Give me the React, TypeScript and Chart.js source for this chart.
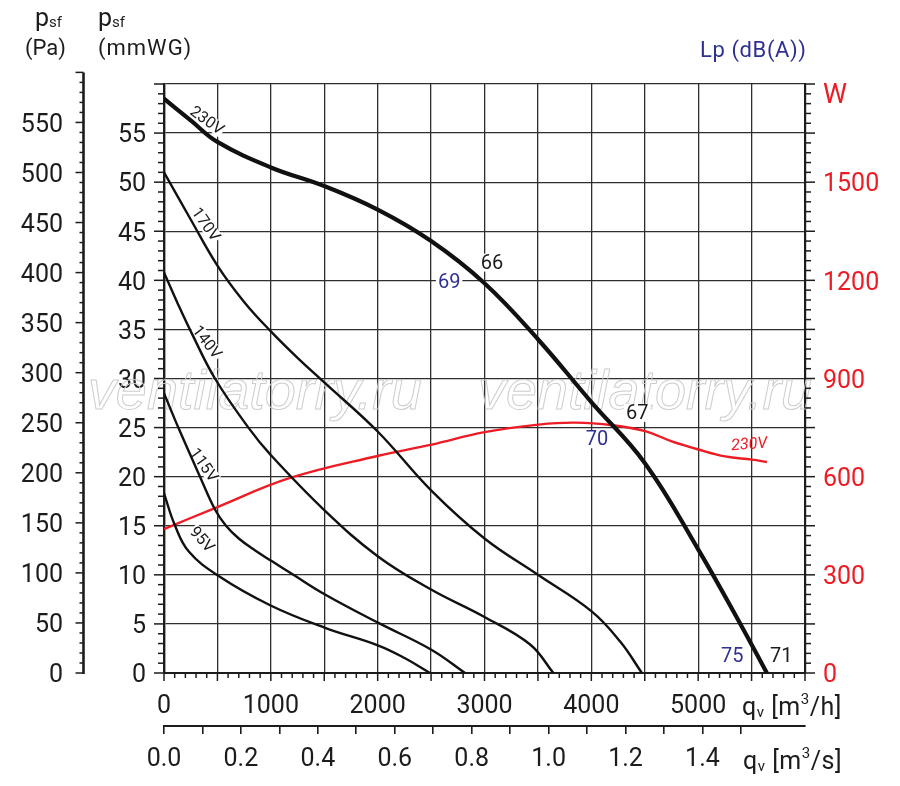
import React, { useEffect, useRef } from 'react';
import { Chart, registerables } from 'chart.js';

Chart.register(...registerables);

const FONT = 'Roboto, "Noto Sans", "DejaVu Sans", sans-serif';
const INK = '#1c1c1c';
const GRID = '#2e2e2e';
const RED = '#ed1c24';
const BLUE = '#2e3192';

// Pressure curves: q in m3/h, p in mmWG
const q230 = [0, 250, 500, 1000, 1500, 2000, 2500, 3000, 3500, 4000, 4500, 5000, 5400, 5643];
const p230 = [58.5, 56.3, 54.1, 51.5, 49.6, 47.2, 44.0, 39.7, 34.0, 27.6, 21.4, 12.6, 4.9, 0];
const q170 = [0, 250, 500, 750, 1000, 1250, 1500, 2000, 2500, 3000, 3500, 4000, 4270, 4473];
const p170 = [51.0, 46.2, 41.5, 37.8, 34.8, 32.1, 29.6, 24.6, 18.6, 13.7, 10.0, 6.3, 3.2, 0];
const q140 = [0, 130, 260, 477, 790, 1000, 1500, 2000, 2500, 3000, 3427, 3645];
const p140 = [40.8, 37.6, 34.6, 30.0, 25.0, 22.2, 16.6, 11.9, 8.5, 5.7, 2.9, 0];
const q115 = [0, 134, 337, 480, 580, 700, 850, 1008, 1211, 1507, 2007, 2506, 2818];
const p115 = [28.5, 25.0, 20.0, 16.6, 15.0, 13.7, 12.5, 11.4, 10.0, 8.0, 5.1, 2.35, 0];
const q95 = [0, 100, 230, 508, 993, 1507, 2007, 2256, 2490];
const p95 = [18.3, 15.1, 12.4, 9.9, 6.9, 4.6, 2.8, 1.5, 0];
// Power input at 230V, W
const qW = [0, 477, 1180, 2007, 2506, 3000, 3505, 3850, 4200, 4504, 4753, 5003, 5253, 5503, 5643];
const pW = [440, 504, 596, 664, 698, 736, 759, 765, 757, 739, 708, 683, 662, 652, 645];

// Curve names
const curveNames = ['230V', '170V', '140V', '115V', '95V'];
const curveNameQ = [403, 393, 403, 375, 356];
const curveNameP = [56.3, 45.7, 33.7, 21.2, 13.6];
const curveNameAngle = [36, 55, 52, 55, 48];

// Sound level notes, dB(A)
const noteText = ['66', '69', '67', '70', '75', '71'];
const noteQ = [3071, 2669, 4429, 4054, 5318, 5777];
const noteP = [41.8, 39.8, 26.5, 23.8, 1.7, 1.7];
const noteBlue = [false, true, false, true, true, false];

// Power curve name
const powerName = '230V';
const powerNameQ = 5478;
const powerNameW = 697;

// Watermark
const watermark = 'ventilatorry.ru';
const watermarkQ = [-712, 2940];
const watermarkP = 26.9;

const pts = (q: number[], p: number[]) => q.map((x, i) => ({ x, y: p[i] }));

function rich(ctx: CanvasRenderingContext2D, parts: [string, number, number][], x: number, y: number) {
  let cx = x;
  for (const [t, size, dy] of parts) {
    ctx.font = `${size}px ${FONT}`;
    ctx.fillText(t, cx, y + dy);
    cx += ctx.measureText(t).width;
  }
}

const decor = {
  id: 'decor',
  beforeDatasetsDraw(chart: any) {
    const { ctx, scales } = chart;
    const x = scales.x, y = scales.y, yW = scales.yW;
    ctx.save();
    // watermark
    ctx.font = `italic 52px "Liberation Sans", Arial, sans-serif`;
    const w0 = ctx.measureText(watermark).width;
    const fs = (52 * 334) / w0;
    ctx.font = `italic ${fs}px "Liberation Sans", Arial, sans-serif`;
    ctx.strokeStyle = '#cdcdcd';
    ctx.lineWidth = 1;
    ctx.textAlign = 'left';
    ctx.textBaseline = 'alphabetic';
    for (const q of watermarkQ) {
      ctx.strokeText(watermark, x.getPixelForValue(q), y.getPixelForValue(watermarkP));
    }
    // curve names
    ctx.font = `16px ${FONT}`;
    ctx.textAlign = 'center';
    ctx.textBaseline = 'middle';
    curveNames.forEach((t, i) => {
      ctx.save();
      ctx.translate(x.getPixelForValue(curveNameQ[i]), y.getPixelForValue(curveNameP[i]));
      ctx.rotate((curveNameAngle[i] * Math.PI) / 180);
      const w = ctx.measureText(t).width;
      ctx.fillStyle = '#fff';
      ctx.fillRect(-w / 2 - 1, -7, w + 2, 14);
      ctx.fillStyle = INK;
      ctx.fillText(t, 0, 1);
      ctx.restore();
    });
    // notes
    ctx.font = `20px ${FONT}`;
    noteText.forEach((t, i) => {
      const px = x.getPixelForValue(noteQ[i]);
      const py = y.getPixelForValue(noteP[i]);
      const w = ctx.measureText(t).width;
      ctx.fillStyle = '#fff';
      ctx.fillRect(px - w / 2 - 2, py - 9, w + 4, 18);
      ctx.fillStyle = noteBlue[i] ? BLUE : INK;
      ctx.fillText(t, px, py + 1);
    });
    // power curve name
    ctx.save();
    ctx.translate(x.getPixelForValue(powerNameQ), yW.getPixelForValue(powerNameW));
    ctx.rotate((-4 * Math.PI) / 180);
    ctx.font = `italic 16px ${FONT}`;
    ctx.fillStyle = RED;
    ctx.fillText(powerName, 0, 0);
    ctx.restore();
    ctx.restore();
  },
  afterDraw(chart: any) {
    const { ctx, scales } = chart;
    const x = scales.x, y = scales.y, yPa = scales.yPa, yW = scales.yW;
    ctx.save();
    ctx.strokeStyle = INK;
    ctx.lineWidth = 1.5;
    ctx.lineCap = 'butt';
    const tick = (x1: number, y1: number, x2: number, y2: number) => {
      ctx.beginPath();
      ctx.moveTo(x1, y1);
      ctx.lineTo(x2, y2);
      ctx.stroke();
    };
    const bottom = y.getPixelForValue(0);
    for (let v = 0; v <= 6000; v += 100) {
      const px = x.getPixelForValue(v);
      tick(px, bottom, px, bottom + (v % 500 === 0 ? 8 : 5));
    }
    const left = y.right;
    for (let v = 0; v <= 60; v += 1) {
      const py = y.getPixelForValue(v);
      tick(left - (v % 5 === 0 ? 10 : 6), py, left, py);
    }
    const paX = yPa.right - 0.5;
    for (let v = 0; v <= 600; v += 10) {
      const py = yPa.getPixelForValue(v);
      tick(paX - (v % 50 === 0 ? 8 : 4), py, paX, py);
    }
    ctx.lineWidth = 2.6;
    tick(paX, yPa.getPixelForValue(600), paX, yPa.getPixelForValue(0) + 1);
    ctx.lineWidth = 1.5;
    const right = yW.left;
    for (let v = 0; v <= 1800; v += 30) {
      const py = yW.getPixelForValue(v);
      tick(right, py, right + (v % 150 === 0 ? 10 : 6), py);
    }
    // texts
    ctx.textAlign = 'left';
    ctx.textBaseline = 'alphabetic';
    ctx.fillStyle = INK;
    rich(ctx, [['p', 25, 0], ['sf', 15, 1]], 35, 26);
    rich(ctx, [['p', 25, 0], ['sf', 15, 1]], 98, 26);
    ctx.font = `22px ${FONT}`;
    ctx.fillText('(Pa)', 25, 55);
    (ctx as any).letterSpacing = '1px';
    ctx.fillText('(mmWG)', 98, 55);
    (ctx as any).letterSpacing = '0.6px';
    ctx.fillStyle = BLUE;
    ctx.fillText('Lp (dB(A))', 700, 57);
    (ctx as any).letterSpacing = '0px';
    ctx.fillStyle = RED;
    ctx.font = `27px ${FONT}`;
    ctx.fillText('W', yW.left + 18, 103);
    ctx.fillStyle = INK;
    (ctx as any).letterSpacing = '0.5px';
    rich(ctx, [['q', 25, 0], ['v', 15, 2], [' [m', 25, 0], ['3', 15, -11], ['/h]', 25, 0]], 742, 715);
    rich(ctx, [['q', 25, 0], ['v', 15, 2], [' [m', 25, 0], ['3', 15, -11], ['/s]', 25, 0]], 743, 769);
    (ctx as any).letterSpacing = '0px';
    ctx.restore();
  },
};

export default function App() {
  const ref = useRef<HTMLCanvasElement>(null);
  useEffect(() => {
    const canvas = ref.current;
    if (!canvas) return;
    const tickFont = { family: FONT, size: 25 };
    const chart = new Chart(canvas, {
      type: 'line',
      data: {
        datasets: [
          { data: pts(q230, p230), borderColor: '#111', borderWidth: 4.2, yAxisID: 'y', xAxisID: 'x' },
          { data: pts(q170, p170), borderColor: '#111', borderWidth: 2.4, yAxisID: 'y', xAxisID: 'x' },
          { data: pts(q140, p140), borderColor: '#111', borderWidth: 2.4, yAxisID: 'y', xAxisID: 'x' },
          { data: pts(q115, p115), borderColor: '#111', borderWidth: 2.4, yAxisID: 'y', xAxisID: 'x' },
          { data: pts(q95, p95), borderColor: '#111', borderWidth: 2.4, yAxisID: 'y', xAxisID: 'x' },
          { data: pts(qW, pW), borderColor: RED, borderWidth: 2.4, yAxisID: 'yW', xAxisID: 'x' },
        ] as any,
      },
      options: {
        responsive: false,
        animation: false,
        events: [],
        layout: { padding: { top: 84, left: 0, right: 0, bottom: 0 }, autoPadding: false } as any,
        plugins: { legend: { display: false }, tooltip: { enabled: false } },
        elements: { point: { radius: 0 }, line: { tension: 0.4, fill: false } },
        scales: {
          x: {
            type: 'linear', position: 'bottom', min: 0, max: 6000, weight: 0,
            afterFit: (s: any) => { s.height = 53; },
            ticks: {
              stepSize: 500, autoSkip: false, maxRotation: 0, padding: 19, color: INK, font: tickFont,
              callback: (v: any) => (v % 1000 === 0 && v < 6000 ? String(v) : ''),
            },
            grid: { color: GRID, lineWidth: 1.3, drawTicks: false },
            border: { display: true, color: INK, width: 2 },
          },
          x2: {
            type: 'linear', position: 'bottom', min: 0, max: 6000 / 3600, weight: 1,
            afterFit: (s: any) => { s.height = 60; },
            afterBuildTicks: (s: any) => { s.ticks = s.ticks.filter((t: any) => t.value <= 1.5 + 1e-6); },
            ticks: {
              stepSize: 0.1, autoSkip: false, maxRotation: 0, padding: 11, color: INK, font: tickFont,
              callback: (v: any) => (Math.round(v * 10) % 2 === 0 ? Number(v).toFixed(1) : ''),
            },
            grid: { display: true, drawOnChartArea: false, drawTicks: true, tickLength: 8, color: INK, lineWidth: 1.6 },
            border: { display: true, color: INK, width: 2 },
          },
          y: {
            type: 'linear', position: 'left', min: 0, max: 60, weight: 0,
            afterFit: (s: any) => { s.width = 80; },
            ticks: {
              stepSize: 5, padding: 18, labelOffset: 3, color: INK, font: tickFont,
              callback: (v: any) => (v < 60 ? String(v) : ''),
            },
            grid: { color: GRID, lineWidth: 1.3, drawTicks: false },
            border: { display: true, color: INK, width: 2.4 },
          },
          yPa: {
            type: 'linear', position: 'left', min: 0, max: 60 * 9.80665, weight: 1,
            afterFit: (s: any) => { s.width = 84; },
            ticks: {
              stepSize: 50, padding: 21, labelOffset: 3, color: INK, font: tickFont,
              callback: (v: any) => (Math.abs(v % 50) < 1e-6 ? String(v) : ''),
            },
            grid: { display: false, drawTicks: false },
            border: { display: false },
          },
          yW: {
            type: 'linear', position: 'right', min: 0, max: 1800, weight: 0,
            afterFit: (s: any) => { s.width = 95; },
            ticks: {
              stepSize: 300, padding: 18, labelOffset: 3, color: RED, font: tickFont,
              callback: (v: any) => (v < 1800 ? String(v) : ''),
            },
            grid: { display: false, drawTicks: false },
            border: { display: true, color: INK, width: 2.2 },
          },
        } as any,
      },
      plugins: [decor],
    } as any);
    return () => chart.destroy();
  }, []);
  return (
    <div style={{ position: 'absolute', left: 0, top: 0, width: 900, height: 786, background: '#fff' }}>
      <canvas ref={ref} width={900} height={786} style={{ display: 'block', width: 900, height: 786 }} />
    </div>
  );
}
